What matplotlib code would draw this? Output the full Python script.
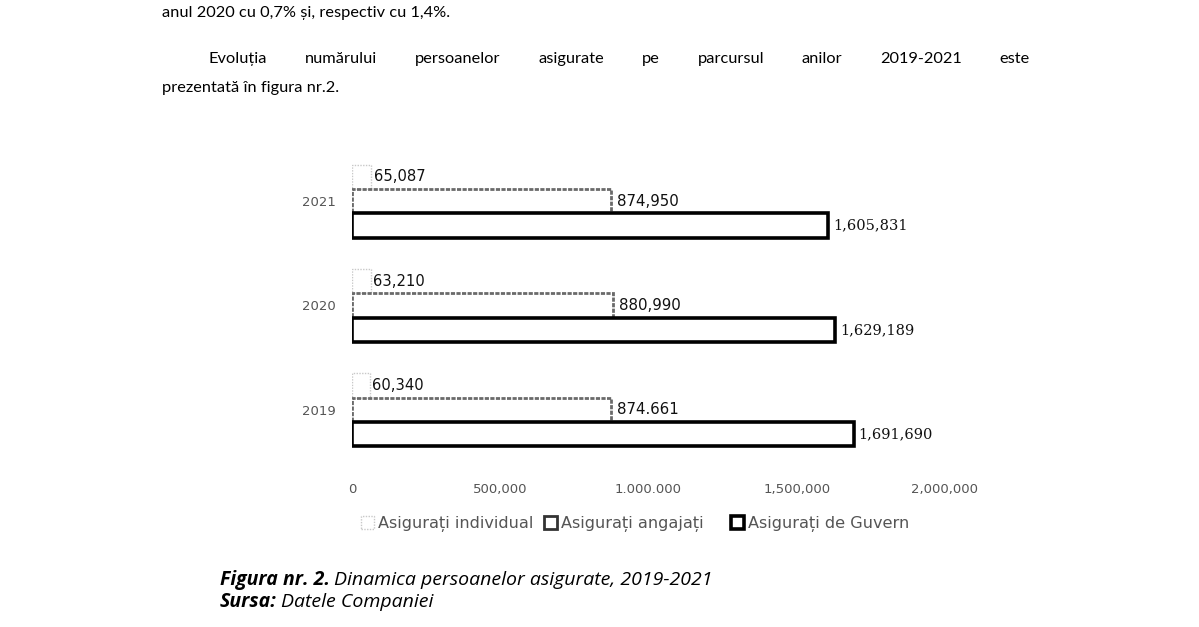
import matplotlib
matplotlib.use("Agg")
import matplotlib.pyplot as plt
from matplotlib.patches import Patch

plt.rcParams['font.family'] = ['Lato', 'DejaVu Sans']

years = ['2019', '2020', '2021']
individual = [60340, 63210, 65087]
angajati = [874661, 880990, 874950]
guvern = [1691690, 1629189, 1605831]
labels_angajati = ['874.661', '880,990', '874,950']
xticks = [0, 500000, 1000000, 1500000, 2000000]
xtick_labels = ['0', '500,000', '1.000.000', '1,500,000', '2,000,000']
series_names = ['Asigurați individual', 'Asigurați angajați', 'Asigurați de Guvern']

W, H = 1199, 627
fig = plt.figure(figsize=(W / 100, H / 100), dpi=100)
fig.patch.set_facecolor('white')

def fx(px):
    return px / W

def fy(py):
    return 1 - py / H

renderer = fig.canvas.get_renderer()

# body text above the figure
body_size = 11.8
fig.text(fx(162), fy(13), 'anul 2020 cu 0,7% și, respectiv cu 1,4%.', fontsize=body_size, va='center')
fig.text(fx(162), fy(88), 'prezentată în figura nr.2.', fontsize=body_size, va='center')

# justified line
words = 'Evoluția numărului persoanelor asigurate pe parcursul anilor 2019-2021 este'.split()
items = [fig.text(0, fy(59), w, fontsize=body_size, va='center') for w in words]
widths = [t.get_window_extent(renderer).width for t in items]
x0, x1 = 209, 1030
gap = (x1 - x0 - sum(widths)) / (len(words) - 1)
x = x0
for t, w in zip(items, widths):
    t.set_x(fx(x))
    x += w + gap

# chart
ax = fig.add_axes([fx(352), fy(462), fx(945) - fx(352), fy(149) - fy(462)])
pos = list(range(len(years)))
h = 0.234

ax.barh([p + h for p in pos], individual, height=h, facecolor='white',
        edgecolor='#c8c8c8', linewidth=1.0, linestyle=(0, (1, 1)))
ax.barh(pos, angajati, height=h, facecolor='white',
        edgecolor='#6a6a6a', linewidth=2.0, linestyle=(0, (1.5, 0.5)))
ax.barh([p - h for p in pos], guvern, height=h, facecolor='white',
        edgecolor='black', linewidth=2.6)

for i, p in enumerate(pos):
    ax.text(individual[i] + 8000, p + h, f'{individual[i]:,}', fontsize=10.6,
            va='center', ha='left', color='#111111', family='DejaVu Sans')
    ax.text(angajati[i] + 18000, p, labels_angajati[i], fontsize=10.8,
            va='center', ha='left', color='#111111', family='DejaVu Sans')
    ax.text(guvern[i] + 16000, p - h, f'{guvern[i]:,}', fontsize=10.5,
            va='center', ha='left', color='#111111', family='DejaVu Serif')

ax.set_xlim(0, 2000000)
ax.set_ylim(-0.5, 2.5)
ax.set_xticks(xticks)
ax.set_xticklabels(xtick_labels, family='DejaVu Sans')
ax.set_yticks(pos)
ax.set_yticklabels(years, family='DejaVu Sans')
for s in ax.spines.values():
    s.set_visible(False)
ax.tick_params(axis='both', length=0, labelsize=9.5, colors='#555555')
ax.tick_params(axis='x', pad=15)
ax.tick_params(axis='y', pad=11.5)
ax.set_facecolor('white')

handles = [
    Patch(facecolor='white', edgecolor='#c8c8c8', linewidth=1.0, linestyle=(0, (1, 1))),
    Patch(facecolor='white', edgecolor='#333333', linewidth=2.0),
    Patch(facecolor='white', edgecolor='black', linewidth=2.6),
]
marker_x = [361, 544, 731]
for hnd, name, mx in zip(handles, series_names, marker_x):
    leg = fig.legend([hnd], [name], loc='center left', bbox_to_anchor=(fx(mx), fy(524)),
                     frameon=False, handlelength=0.8, handleheight=0.8,
                     handletextpad=0.25, borderpad=0, borderaxespad=0,
                     prop={'family': 'DejaVu Sans', 'size': 11.6})
    for t in leg.get_texts():
        t.set_color('#555555')

# caption
cap_font = ['Open Sans', 'DejaVu Sans']
cap_size = 14
cap = fig.text(fx(220), fy(580), 'Figura nr. 2.', fontsize=cap_size, fontweight='bold',
               style='italic', va='center', family=cap_font)
cw = cap.get_window_extent(renderer).width
fig.text(fx(220 + cw + 4), fy(580), 'Dinamica persoanelor asigurate, 2019-2021',
         fontsize=cap_size, style='italic', va='center', family=cap_font)
src = fig.text(fx(220), fy(602), 'Sursa:', fontsize=cap_size, fontweight='bold',
               style='italic', va='center', family=cap_font)
sw = src.get_window_extent(renderer).width
fig.text(fx(220 + sw + 4), fy(602), 'Datele Companiei', fontsize=cap_size, style='italic',
         va='center', family=cap_font)

fig.savefig('out.png', dpi=100, facecolor='white')
